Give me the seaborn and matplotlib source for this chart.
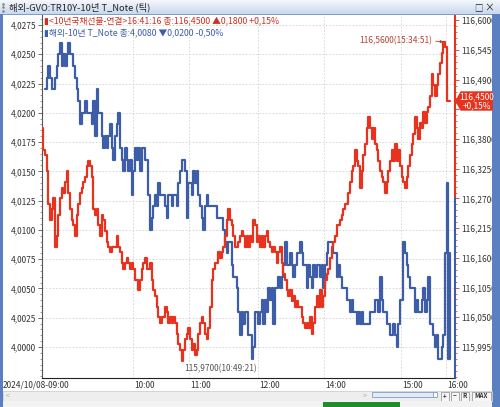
import numpy as np
import pandas as pd
import matplotlib
matplotlib.use("Agg")
import matplotlib.pyplot as plt
import seaborn as sns
from matplotlib.patches import Rectangle, Polygon
from matplotlib.lines import Line2D
from matplotlib.ticker import FixedLocator, FuncFormatter
import matplotlib.transforms as mtransforms

# ---------------- data (tick-by-tick) ----------------
ktb10_price = [
    116.40, 116.36, 116.35, 116.32, 116.26, 116.23, 116.25, 116.27, 116.18, 116.20,
    116.24, 116.27, 116.29, 116.28, 116.30, 116.32, 116.28, 116.25, 116.23, 116.22,
    116.20, 116.24, 116.26, 116.28, 116.29, 116.30, 116.31, 116.33, 116.34, 116.33,
    116.31, 116.25, 116.24, 116.25, 116.22, 116.20, 116.24, 116.23, 116.21, 116.19,
    116.18, 116.17, 116.18, 116.18, 116.18, 116.20, 116.18, 116.17, 116.15, 116.14,
    116.15, 116.16, 116.15, 116.14, 116.15, 116.14, 116.12, 116.12, 116.10, 116.12,
    116.14, 116.15, 116.16, 116.14, 116.14, 116.15, 116.12, 116.10, 116.09, 116.07,
    116.05, 116.04, 116.05, 116.05, 116.07, 116.06, 116.04, 116.05, 116.04, 116.05,
    116.04, 116.02, 116.00, 115.99, 115.97, 115.99, 116.01, 116.02, 116.03, 116.01,
    115.99, 116.00, 115.98, 115.99, 116.02, 116.04, 116.05, 116.04, 116.02, 116.01,
    116.03, 116.07, 116.12, 116.14, 116.15, 116.15, 116.17, 116.16, 116.17, 116.18,
    116.20, 116.23, 116.25, 116.23, 116.22, 116.20, 116.18, 116.18, 116.19, 116.20,
    116.21, 116.20, 116.18, 116.20, 116.18,
    116.20, 116.19, 116.23, 116.22, 116.19, 116.20, 116.18, 116.20, 116.18, 116.20,
    116.21, 116.19, 116.18, 116.17, 116.18, 116.17, 116.15, 116.17, 116.18, 116.15,
    116.13, 116.12, 116.10, 116.09, 116.10, 116.08, 116.09, 116.07, 116.08, 116.07,
    116.07, 116.05, 116.04, 116.03, 116.04, 116.03, 116.05, 116.02, 116.04, 116.07,
    116.09, 116.07, 116.10, 116.07, 116.09, 116.12, 116.13, 116.14, 116.16, 116.18,
    116.19, 116.20, 116.22, 116.22, 116.23, 116.24, 116.25, 116.26, 116.26, 116.28,
    116.30, 116.32, 116.33, 116.36, 116.34, 116.33, 116.29, 116.32, 116.35, 116.37,
    116.40, 116.42, 116.40, 116.38, 116.40, 116.37, 116.36, 116.34, 116.32, 116.31,
    116.30, 116.28, 116.30, 116.32, 116.34, 116.36, 116.34, 116.37, 116.34, 116.36,
    116.33, 116.31, 116.30, 116.29, 116.31, 116.33, 116.35, 116.37, 116.39, 116.42,
    116.40, 116.38, 116.41, 116.40, 116.43, 116.41, 116.43, 116.44, 116.46, 116.50,
    116.48, 116.46, 116.48, 116.50, 116.52, 116.54, 116.56, 116.55, 116.45, 116.45,
    116.45,
]

us10y_yield = [np.nan, np.nan,
    4.022, 4.023, 4.024, 4.023, 4.022, 4.022, 4.023, 4.024, 4.025, 4.026,
    4.024, 4.025, 4.024, 4.025, 4.026, 4.025, 4.025, 4.024, 4.023, 4.022,
    4.021, 4.019, 4.020, 4.020, 4.021, 4.020, 4.020, 4.020, 4.019, 4.021,
    4.018, 4.022, 4.020, 4.020, 4.018, 4.017, 4.018, 4.017, 4.018, 4.019,
    4.017, 4.016, 4.018, 4.019, 4.020, 4.017, 4.016, 4.015, 4.017, 4.016,
    4.015, 4.016, 4.013, 4.015, 4.017, 4.016, 4.017, 4.015, 4.017, 4.017,
    4.016, 4.016, 4.013, 4.010, 4.011, 4.012, 4.013, 4.012, 4.014, 4.013,
    4.013, 4.013, 4.012, 4.011, 4.013, 4.013, 4.012, 4.013, 4.013, 4.012,
    4.014, 4.015, 4.016, 4.016, 4.015, 4.011, 4.014, 4.014, 4.013, 4.015,
    4.014, 4.015, 4.013, 4.012, 4.011, 4.010, 4.012, 4.013, 4.012, 4.012,
    4.012, 4.012, 4.012, 4.011, 4.011, 4.011, 4.011, 4.010, 4.009, 4.008,
    4.009, 4.009, 4.007, 4.006, 4.006, 4.005, 4.003, 4.001, 4.003, 4.002,
    4.003, 4.003, 4.001,
    4.001, 3.999, 4.000, 4.003, 4.003, 4.002, 4.003, 4.004, 4.002, 4.004,
    4.003, 4.005, 4.004, 4.005, 4.002, 4.005, 4.005, 4.006, 4.005, 4.006,
    4.007, 4.009, 4.007, 4.007, 4.008, 4.007, 4.006, 4.007, 4.008, 4.008,
    4.009, 4.008, 4.007, 4.007, 4.005, 4.007, 4.006, 4.005, 4.007, 4.006,
    4.007, 4.007, 4.006, 4.007, 4.005, 4.007, 4.008, 4.009, 4.009, 4.009,
    4.008, 4.008, 4.006, 4.007, 4.006, 4.005, 4.005, 4.005, 4.004, 4.004,
    4.003, 4.004, 4.003, 4.003, 4.002, 4.003, 4.002, 4.003, 4.002, 4.002,
    4.002, 4.002, 4.003, 4.003, 4.003, 4.004, 4.004, 4.003, 4.006, 4.004,
    4.003, 4.003, 4.002, 4.002, 4.001, 4.001, 4.002, 4.001, 4.000, 4.002,
    4.004, 4.004, 4.009, 4.008, 4.007, 4.006, 4.005, 4.005, 4.005, 4.003,
    4.004, 4.003, 4.003, 4.004, 4.005, 4.003, 4.004, 4.006, 4.002, 4.002,
    4.001, 4.000, 4.001, 3.999, 3.999, 4.000, 4.001, 4.008, 4.014, 3.999,
    4.008,
]

time_tick_index = [54.8, 88.4, 129.8, 169.4, 215.6, 242.6]
time_tick_labels = ["10:00", "11:00", "12:00", "14:00", "15:00", "16:00"]
first_time_label = "2024/10/08-09:00"

left_ticks = [4.0000, 4.0025, 4.0050, 4.0075, 4.0100, 4.0125,
              4.0150, 4.0175, 4.0200, 4.0225, 4.0250, 4.0275]
right_ticks = [115.995, 116.050, 116.105, 116.160, 116.215, 116.270,
               116.325, 116.380, 116.435, 116.490, 116.545, 116.600]
hidden_right_tick = 116.435   # covered by the last-price box in the reference

title_text = "해외-GVO:TR10Y-10년 T_Note (틱)"
legend_red = "▮<10년국채선물-연결>16:41:16 종:116,4500 ▲0,1800 +0,15%"
legend_blue = "▮해외-10년 T_Note 종:4,0080 ▼0,0200 -0,50%"
min_label = "115,9700(10:49:21)"
max_label = "116,5600(15:34:51)"
last_price_label = "116,4500\n+0,15%"

# ---------------- styling ----------------
sns.set_theme(style="white")
plt.rcParams["font.family"] = ["Noto Sans CJK KR", "DejaVu Sans"]
plt.rcParams["axes.unicode_minus"] = False

RED = "#E8321E"
BLUE = "#3D5DA8"
FRAME = "#5B80C2"
W, H = 500, 407

fig = plt.figure(figsize=(5.0, 4.07), dpi=100)
fig.patch.set_facecolor("white")


def P(x, y):
    return (x / W, 1 - y / H)


def rect(x0, y0, x1, y1, **kw):
    fig.add_artist(Rectangle(P(x0, y1), (x1 - x0) / W, (y1 - y0) / H,
                             transform=fig.transFigure, **kw))


def ftext(x, y, s, **kw):
    fig.text(x / W, 1 - y / H, s, **kw)


ax_left_px, ax_right_px, ax_top_px, ax_bot_px = 41.67, 455, 15, 378
ax = fig.add_axes([ax_left_px / W, 1 - ax_bot_px / H,
                   (ax_right_px - ax_left_px) / W, (ax_bot_px - ax_top_px) / H])
ax2 = ax.twinx()

df = pd.DataFrame({"tick": np.arange(len(ktb10_price)),
                   "us10y": us10y_yield, "ktb10": ktb10_price})

sns.lineplot(data=df, x="tick", y="us10y", ax=ax, color=BLUE, lw=1.6,
             drawstyle="steps-post", estimator=None, legend=False)
sns.lineplot(data=df, x="tick", y="ktb10", ax=ax2, color=RED, lw=1.6,
             drawstyle="steps-post", estimator=None, legend=False)

for a in (ax, ax2):
    a.set_xlabel("")
    a.set_ylabel("")

ax.set_xlim(0, 248)
ax.set_ylim(3.99735, 4.02835)
ax2.set_ylim(115.9376, 116.6098)

fmt = FuncFormatter(lambda v, p: f"{v:.4f}".replace(".", ","))
fmt_r = FuncFormatter(lambda v, p: "" if abs(v - hidden_right_tick) < 1e-6
                      else f"{v:.4f}".replace(".", ","))

ax.yaxis.set_major_locator(FixedLocator(left_ticks))
ax.yaxis.set_minor_locator(FixedLocator(np.arange(3.9975, 4.0285, 0.0005)))
ax.yaxis.set_major_formatter(fmt)
ax.tick_params(axis="y", which="major", direction="out", length=3, width=0.6,
               color="#555555", labelsize=6, labelcolor="#333333", pad=1)
ax.tick_params(axis="y", which="minor", direction="out", length=1.5, width=0.5,
               color="#777777")

ax2.yaxis.set_major_locator(FixedLocator(right_ticks))
ax2.yaxis.set_minor_locator(FixedLocator(np.arange(115.940, 116.61, 0.011)))
ax2.yaxis.set_major_formatter(fmt_r)
ax2.tick_params(axis="y", which="major", direction="out", length=3, width=0.6,
                color=RED, labelsize=6, labelcolor="#333333", pad=1.5)
ax2.tick_params(axis="y", which="minor", direction="out", length=1.5, width=0.5,
                color=RED)

ax.set_xticks(time_tick_index)
ax.tick_params(axis="x", direction="out", length=4, width=0.6, color="#333333",
               labelbottom=False)
ax2.tick_params(axis="x", labelbottom=False, bottom=False)

ax.grid(True, which="major", color="#D2D2D2", ls=(0, (2, 2)), lw=0.6)
ax.set_facecolor("white")
ax2.patch.set_visible(False)

for s in ("top", "right"):
    ax.spines[s].set_visible(False)
for s in ("top", "right", "left", "bottom"):
    ax2.spines[s].set_visible(False)
ax.spines["left"].set_color("#555555")
ax.spines["left"].set_linewidth(0.8)
ax.spines["bottom"].set_color("#222222")
ax.spines["bottom"].set_linewidth(0.8)

# two-colour right spine
split = (ax_bot_px - 198) / (ax_bot_px - ax_top_px)
ax2.add_line(Line2D([1, 1], [split, 1], transform=ax2.transAxes, color=RED,
                    lw=1.5, clip_on=False))
ax2.add_line(Line2D([1, 1], [0, split], transform=ax2.transAxes, color=BLUE,
                    lw=1.5, clip_on=False))

fig.canvas.draw()
split_val = ax2.get_ylim()[0] + split * (ax2.get_ylim()[1] - ax2.get_ylim()[0])
for t in ax2.yaxis.get_major_ticks() + ax2.yaxis.get_minor_ticks():
    t.tick2line.set_color(RED if t.get_loc() >= split_val else BLUE)

# x labels (left-aligned to the right of each tick)
off = mtransforms.ScaledTranslation(1.5 / 100, 0, fig.dpi_scale_trans)
trans = mtransforms.blended_transform_factory(ax.transData, ax.transAxes) + off
for pos, lab in zip(time_tick_index, time_tick_labels):
    ax.text(pos, -(385 - ax_bot_px) / (ax_bot_px - ax_top_px), lab,
            transform=trans, ha="left", va="center", fontsize=6,
            color="#333333", clip_on=False)
ftext(3, 385, first_time_label, ha="left", va="center", fontsize=6,
      color="#333333")

# legend texts
ftext(44, 21, legend_red, ha="left", va="center", fontsize=6.3, color="#D03020")
ftext(44, 33, legend_blue, ha="left", va="center", fontsize=6.3, color=BLUE)

# min / max annotations
ktb = np.array(ktb10_price)
i_min = int(np.argmin(ktb))
i_max = int(np.argmax(ktb))
ax2.annotate(min_label, xy=(i_min, ktb[i_min]), xytext=(3, -8),
             textcoords="offset pixels", ha="left", va="center", fontsize=6,
             color="#555555",
             arrowprops=dict(arrowstyle="-", color="#555555", lw=0.6,
                             shrinkA=0, shrinkB=0, relpos=(0, 0.5),
                             connectionstyle="angle,angleA=0,angleB=90,rad=0"))
ax2.annotate(max_label, xy=(i_max, ktb[i_max]), xytext=(-11, 1),
             textcoords="offset pixels", ha="right", va="center", fontsize=6,
             color="#B84030",
             arrowprops=dict(arrowstyle="-|>", color="#B84030", lw=0.6,
                             mutation_scale=4, shrinkA=0, shrinkB=0,
                             relpos=(1, 0.5)))

# last price box on right axis
fig.add_artist(Polygon([P(456, 101), P(461, 92), P(492, 92), P(492, 110), P(461, 110)],
                       closed=True, transform=fig.transFigure, facecolor=RED,
                       edgecolor=RED, zorder=5))
ftext(476.5, 101, last_price_label, ha="center", va="center", fontsize=6,
      color="white", linespacing=0.95, zorder=6)

# ---------------- window chrome ----------------
tax = fig.add_axes([0, 1 - 14 / H, 1, 14 / H])
grad = np.linspace(0, 1, 20).reshape(-1, 1)
c_top = np.array([0.96, 0.97, 0.99])
c_bot = np.array([0.79, 0.85, 0.93])
img = c_top[None, None, :] * (1 - grad[..., None]) + c_bot[None, None, :] * grad[..., None]
tax.imshow(np.repeat(img, 2, axis=1), aspect="auto", extent=(0, 1, 0, 1))
tax.set_xlim(0, 1)
tax.set_ylim(0, 1)
tax.scatter([0.005, 0.005, 0.005], [0.25, 0.5, 0.75], s=0.8, color="#888888")
tax.set_axis_off()
ftext(9, 7.5, title_text, ha="left", va="center", fontsize=6.7, color="#222222")
ftext(478, 7.5, "□", ha="center", va="center", fontsize=6, color="#222222")
ftext(489, 7.5, "×", ha="center", va="center", fontsize=7, color="#222222")
rect(0, 13.5, 500, 14.5, facecolor="#7F9DC9", edgecolor="none")

rect(0, 14, 3, 407, facecolor=FRAME, edgecolor="none")
rect(492, 14, 500, 407, facecolor=FRAME, edgecolor="none")

# scroll bar rows
rect(3, 391, 492, 401, facecolor="#EEEEEE", edgecolor="#C8C8C8", lw=0.5)
ftext(8, 396, "<", ha="center", va="center", fontsize=5, color="#AAAAAA")
ftext(365, 396, ">", ha="center", va="center", fontsize=5, color="#AAAAAA")
rect(372, 392, 436, 397, facecolor="#E3EBF7", edgecolor="#7F9DC9", lw=0.6)
rect(433, 392, 437, 397, facecolor="white", edgecolor="#7F9DC9", lw=0.6)
for xb, lab, w in ((441, "+", 8), (451, "−", 8), (461, "R", 8), (472, "MAX", 19)):
    rect(xb, 391.5, xb + w, 400.5, facecolor="#F6F6F6", edgecolor="#8A8A8A", lw=0.5)
    ftext(xb + w / 2, 396, lab, ha="center", va="center", fontsize=4.5,
          color="#333333", fontweight="bold")
rect(3, 401, 492, 407, facecolor="#F2F2F2", edgecolor="none")
rect(323, 402, 400, 407, facecolor="#1E8C2A", edgecolor="none")

fig.savefig("out.png", dpi=100, facecolor=fig.get_facecolor())
